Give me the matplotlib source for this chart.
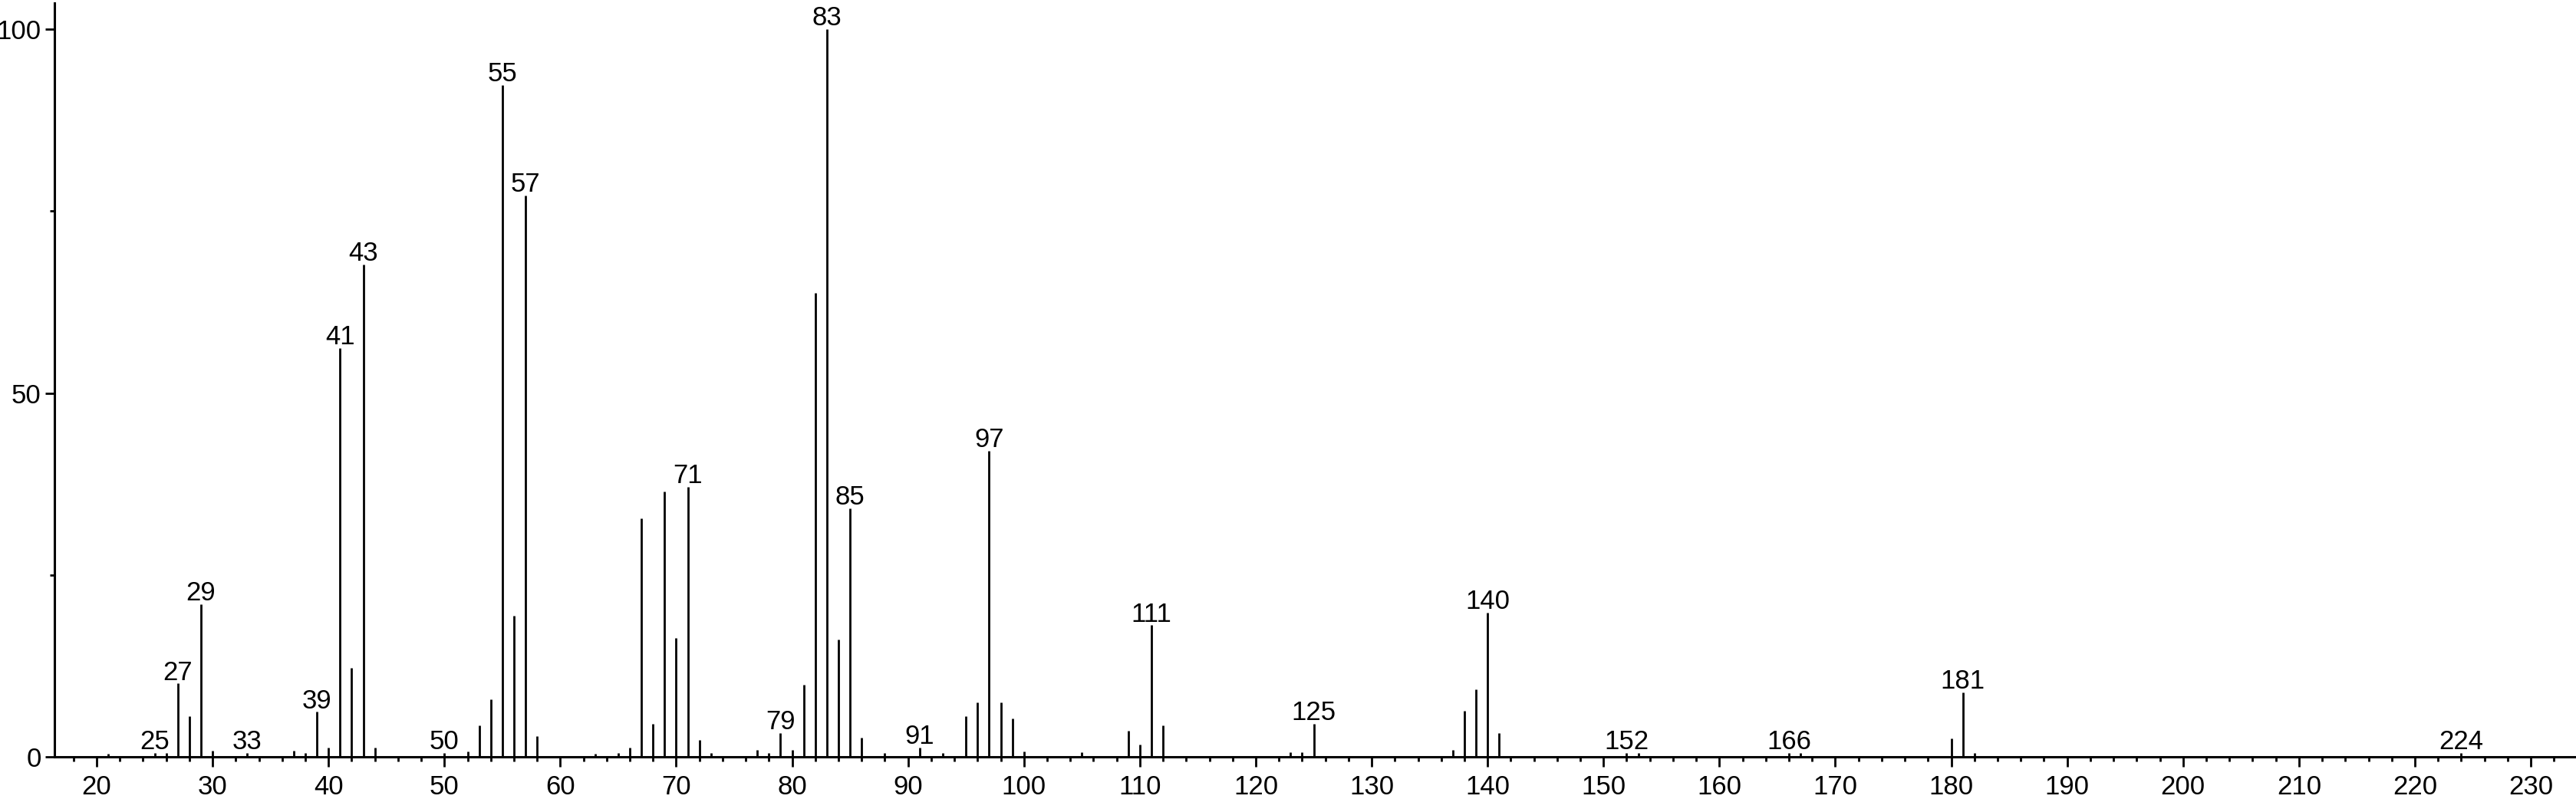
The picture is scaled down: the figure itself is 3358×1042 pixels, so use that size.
import matplotlib
matplotlib.use("Agg")
import matplotlib.pyplot as plt
from matplotlib.ticker import MultipleLocator

plt.rcParams['font.family'] = ['Liberation Sans', 'DejaVu Sans']

# m/z and relative intensity
mz = [21, 25, 26, 27, 28, 29, 30, 33, 37, 38, 39, 40, 41, 42, 43, 44,
      50, 52, 53, 54, 55, 56, 57, 58, 63, 65, 66, 67, 68, 69, 70, 71, 72, 73,
      77, 78, 79, 80, 81, 82, 83, 84, 85, 86, 88, 91, 93,
      95, 96, 97, 98, 99, 100, 105, 109, 110, 111, 112,
      123, 124, 125, 137, 138, 139, 140, 141,
      152, 153, 166, 167, 180, 181, 182, 224]
intensity = [0.5, 0.6, 0.6, 10.1, 5.6, 21.0, 0.9, 0.6, 0.9, 0.6, 6.2, 1.3, 56.2, 12.2, 67.7, 1.3,
             0.6, 0.8, 4.3, 7.9, 92.3, 19.4, 77.2, 2.9, 0.5, 0.6, 1.3, 32.8, 4.6, 36.5, 16.4, 37.1, 2.3, 0.6,
             1.0, 0.6, 3.3, 1.0, 9.9, 63.8, 100.0, 16.1, 34.2, 2.7, 0.6, 1.3, 0.6,
             5.6, 7.5, 42.1, 7.5, 5.3, 0.8, 0.7, 3.6, 1.7, 18.1, 4.3,
             0.7, 0.7, 4.6, 1.0, 6.3, 9.3, 19.8, 3.3,
             0.6, 0.6, 0.6, 0.6, 2.6, 8.9, 0.6, 0.6]

# peaks that carry an m/z label
labelled = [25, 27, 29, 33, 39, 41, 43, 50, 55, 57, 71, 79, 83, 85, 91, 97,
            111, 125, 140, 152, 166, 181, 224]

fig = plt.figure(figsize=(33.58, 10.42), dpi=100)
ax = fig.add_axes([0.02105, 0.0525, 0.97895, 0.9437])

ax.vlines(mz, 0, intensity, color="black", linewidth=2.0)

for m, h in zip(mz, intensity):
    if m in labelled:
        ax.annotate(str(m), (m, h), xytext=(0, 3.5), textcoords="offset points",
                    ha="center", va="baseline", fontsize=25)

ax.set_xlim(16.34, 233.9)
ax.set_ylim(0, 103.6)

ax.xaxis.set_major_locator(MultipleLocator(10))
ax.xaxis.set_minor_locator(MultipleLocator(2))
ax.yaxis.set_major_locator(MultipleLocator(50))
ax.yaxis.set_minor_locator(MultipleLocator(25))

ax.spines["top"].set_visible(False)
ax.spines["right"].set_visible(False)
ax.spines["left"].set_linewidth(2.2)
ax.spines["bottom"].set_linewidth(2.2)

ax.tick_params(axis="x", which="major", length=9.4, width=2.0, pad=7, labelsize=25)
ax.tick_params(axis="x", which="minor", length=4.3, width=2.0)
ax.tick_params(axis="y", which="major", length=8.6, width=2.0, pad=3.6, labelsize=25)
ax.tick_params(axis="y", which="minor", length=4.3, width=2.0)

fig.savefig("out.png", dpi=100)
